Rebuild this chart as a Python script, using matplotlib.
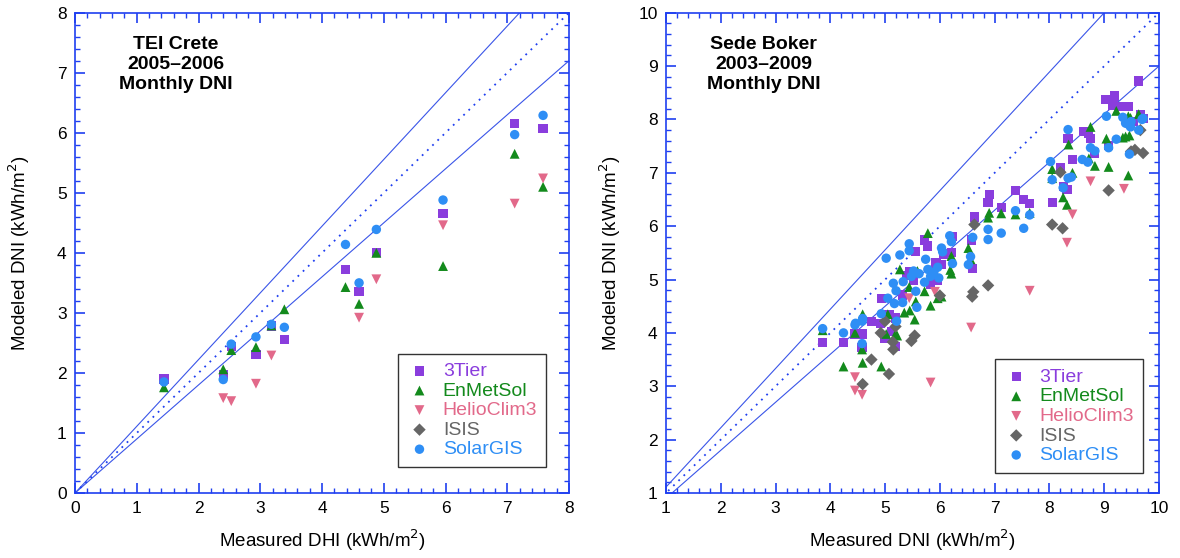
import numpy as np
import matplotlib
matplotlib.use('Agg')
import matplotlib.pyplot as plt
from matplotlib.ticker import MultipleLocator

plt.rcParams['font.family'] = ['Liberation Sans', 'DejaVu Sans']

series = ['3Tier', 'EnMetSol', 'HelioClim3', 'ISIS', 'SolarGIS']
colors = ['#8a3ddd', '#138a1c', '#e2698a', '#666666', '#2e8ef5']
markers = ['s', '^', 'v', 'D', 'o']

# TEI Crete, 2005-2006 (measured, modeled)
crete_3tier_x = [1.44, 2.40, 2.53, 2.93, 3.18, 3.39, 4.38, 4.60, 4.88, 5.96, 7.12, 7.58]
crete_3tier_y = [1.90, 1.97, 2.44, 2.31, 2.78, 2.56, 3.72, 3.36, 4.00, 4.65, 6.15, 6.07]
crete_enm_x = [1.44, 2.40, 2.53, 2.93, 3.18, 3.39, 4.38, 4.60, 4.88, 5.96, 7.12, 7.58]
crete_enm_y = [1.76, 2.06, 2.38, 2.43, 2.79, 3.06, 3.43, 3.15, 4.00, 3.78, 5.65, 5.10]
crete_helio_x = [2.40, 2.53, 2.93, 3.18, 4.60, 4.88, 5.96, 7.12, 7.58]
crete_helio_y = [1.58, 1.53, 1.82, 2.29, 2.92, 3.56, 4.46, 4.82, 5.24]
crete_isis_x = []
crete_isis_y = []
crete_sgis_x = [1.44, 2.40, 2.53, 2.93, 3.18, 3.39, 4.38, 4.60, 4.88, 5.96, 7.12, 7.58]
crete_sgis_y = [1.85, 1.89, 2.48, 2.60, 2.81, 2.76, 4.14, 3.50, 4.39, 4.88, 5.97, 6.29]

# Sede Boker, 2003-2009
sb_3tier_x = [3.86, 4.24, 4.45, 4.59, 4.58, 4.75, 4.92, 4.94, 5.00, 5.07, 5.12, 5.19,
              5.19, 5.32, 5.39, 5.45, 5.56, 5.52, 5.72, 5.78, 5.83, 5.93, 5.96, 6.03,
              6.06, 6.23, 6.21, 6.60, 6.57, 6.63, 6.88, 6.90, 7.12, 7.38, 7.53, 7.64,
              8.06, 8.20, 8.26, 8.32, 8.34, 8.42, 8.62, 8.72, 8.75, 8.82, 9.08, 9.02,
              9.19, 9.16, 9.29, 9.44, 9.53, 9.63, 9.66, 9.71]
sb_3tier_y = [3.82, 3.82, 3.98, 3.98, 3.72, 4.22, 4.18, 4.65, 3.90, 4.35, 4.02, 3.75,
              4.28, 4.71, 5.08, 5.14, 5.52, 4.98, 5.74, 5.63, 4.91, 5.31, 4.98, 5.28,
              5.48, 5.81, 5.51, 5.21, 5.74, 6.17, 6.44, 6.60, 6.35, 6.67, 6.50, 6.42,
              6.44, 7.10, 6.75, 6.69, 7.64, 7.25, 7.78, 7.73, 7.64, 7.37, 7.51, 8.37,
              8.44, 8.26, 8.24, 8.24, 7.96, 8.72, 8.10, 8.02]
sb_enm_x = [3.86, 4.24, 4.58, 4.59, 4.59, 4.45, 4.93, 5.02, 5.05, 5.19, 5.22, 5.27,
            5.35, 5.45, 5.44, 5.54, 5.56, 5.59, 5.72, 5.78, 5.83, 5.96, 6.03, 6.19,
            6.21, 6.21, 6.52, 6.56, 6.88, 6.90, 7.12, 7.38, 7.64, 8.05, 8.05, 8.25,
            8.32, 8.35, 8.42, 8.75, 8.72, 8.83, 9.08, 9.04, 9.22, 9.34, 9.39, 9.46,
            9.44, 9.48, 9.44, 9.63]
sb_enm_y = [4.05, 3.37, 3.69, 4.35, 3.44, 4.00, 3.37, 3.98, 4.35, 3.98, 3.95, 5.19,
            4.38, 4.42, 4.86, 4.25, 4.59, 5.16, 4.78, 5.87, 4.51, 4.65, 4.68, 5.18,
            5.44, 5.11, 5.59, 5.38, 6.16, 6.25, 6.24, 6.22, 6.25, 7.07, 6.90, 6.54,
            6.40, 7.53, 7.00, 7.86, 7.27, 7.13, 7.11, 7.64, 8.16, 7.66, 7.68, 7.70,
            8.06, 8.03, 6.95, 8.10]
sb_helio_x = [4.45, 4.45, 4.58, 5.44, 5.91, 5.83, 6.57, 7.64, 8.42, 8.32, 8.75, 9.36]
sb_helio_y = [3.17, 2.92, 2.84, 4.65, 4.77, 3.07, 4.10, 4.79, 6.22, 5.69, 6.84, 6.70]
sb_isis_x = [4.59, 4.75, 4.92, 5.00, 5.07, 5.15, 5.14, 5.19, 5.48, 5.54, 6.00, 6.59,
             6.61, 6.88, 6.63, 8.05, 8.24, 8.20, 9.08, 9.49, 9.56, 9.71, 9.66]
sb_isis_y = [3.04, 3.50, 4.00, 4.22, 3.23, 3.69, 3.83, 4.12, 3.85, 3.95, 4.70, 4.68,
             4.77, 4.89, 6.03, 6.03, 5.96, 7.01, 6.67, 7.40, 7.43, 7.37, 7.80]
sb_sgis_x = [3.86, 4.24, 4.45, 4.46, 4.58, 4.59, 4.58, 4.93, 5.02, 5.05, 5.15, 5.17,
             5.20, 5.21, 5.27, 5.32, 5.33, 5.44, 5.44, 5.48, 5.52, 5.56, 5.58, 5.62,
             5.72, 5.74, 5.78, 5.83, 5.89, 5.96, 5.98, 6.03, 6.05, 6.18, 6.21, 6.23,
             6.52, 6.56, 6.60, 6.88, 6.88, 7.12, 7.38, 7.53, 7.64, 8.02, 8.05, 8.25,
             8.34, 8.34, 8.40, 8.60, 8.70, 8.75, 8.83, 9.08, 9.04, 9.22, 9.34, 9.39,
             9.44, 9.46, 9.49, 9.48, 9.63, 9.69, 9.71]
sb_sgis_y = [4.08, 4.00, 4.15, 4.18, 3.80, 4.27, 4.22, 4.36, 5.40, 4.65, 4.93, 4.55,
             4.79, 4.22, 5.46, 4.57, 4.96, 5.67, 5.54, 5.06, 5.16, 4.78, 4.48, 5.11,
             4.95, 5.38, 5.19, 5.06, 5.14, 5.23, 5.03, 5.59, 5.52, 5.82, 5.71, 5.30,
             5.28, 5.43, 5.79, 5.94, 5.75, 5.87, 6.29, 5.96, 6.21, 7.21, 6.87, 6.72,
             7.81, 6.90, 6.92, 7.25, 7.20, 7.47, 7.41, 7.47, 8.06, 7.63, 8.04, 7.93,
             7.91, 7.35, 7.96, 7.86, 7.80, 8.00, 8.02]

crete = [(crete_3tier_x, crete_3tier_y), (crete_enm_x, crete_enm_y),
         (crete_helio_x, crete_helio_y), (crete_isis_x, crete_isis_y),
         (crete_sgis_x, crete_sgis_y)]
sede = [(sb_3tier_x, sb_3tier_y), (sb_enm_x, sb_enm_y), (sb_helio_x, sb_helio_y),
        (sb_isis_x, sb_isis_y), (sb_sgis_x, sb_sgis_y)]

axis_blue = '#1f3ff0'
line_blue = '#3a55e8'

fig = plt.figure(figsize=(11.8, 5.58), dpi=100)
ax1 = fig.add_axes([0.0636, 0.1165, 0.4186, 0.8607])
ax2 = fig.add_axes([0.5644, 0.1165, 0.4178, 0.8607])


def draw_panel(ax, data, lo, hi, title, tx, ty, xlabel, legend_box):
    t = np.array([0, hi])
    ax.plot(t, t / 0.9, color=line_blue, lw=0.8)
    ax.plot(t, t * 0.9, color=line_blue, lw=0.8)
    ax.plot(t, t, color=axis_blue, lw=1.3, linestyle=(0, (1, 3)))
    for (x, y), name, c, m in zip(data, series, colors, markers):
        ms = {'s': 44, '^': 50, 'v': 50, 'D': 40, 'o': 46}[m]
        ax.scatter(x, y, s=ms, marker=m, color=c, edgecolors='none', label=name, zorder=3)
    ax.set_xlim(lo, hi)
    ax.set_ylim(lo, hi)
    ax.xaxis.set_major_locator(MultipleLocator(1))
    ax.yaxis.set_major_locator(MultipleLocator(1))
    ax.xaxis.set_minor_locator(MultipleLocator(0.2))
    ax.yaxis.set_minor_locator(MultipleLocator(0.2))
    ax.tick_params(which='both', direction='in', top=True, right=True,
                   color=axis_blue, labelcolor='black', labelsize=12.5, pad=6)
    ax.tick_params(which='major', length=7, width=1.2)
    ax.tick_params(which='minor', length=3.5, width=1.0)
    for s in ax.spines.values():
        s.set_color(axis_blue)
        s.set_linewidth(1.2)
    ax.set_xlabel(xlabel, fontsize=13.5, labelpad=8)
    ax.set_ylabel('Modeled DNI (kWh/m$^2$)', fontsize=13.5)
    ax.yaxis.set_label_coords(-0.087, 0.5)
    ax.text(tx, ty, title, ha='center', va='top', fontsize=14, fontweight='bold',
            linespacing=1.25)
    leg = ax.legend(loc='lower left', bbox_to_anchor=legend_box, fontsize=14,
                    frameon=True, fancybox=False, edgecolor='black',
                    handletextpad=0.55, borderpad=0.45, labelspacing=0.1,
                    handlelength=1.3, borderaxespad=0, scatterpoints=1)
    leg.get_frame().set_linewidth(1.0)
    for txt, c in zip(leg.get_texts(), colors):
        txt.set_color(c)


draw_panel(ax1, crete, 0, 8, 'TEI Crete\n2005–2006\nMonthly DNI', 1.63, 7.62,
           'Measured DHI (kWh/m$^2$)', (0.654, 0.054))
draw_panel(ax2, sede, 1, 10, 'Sede Boker\n2003–2009\nMonthly DNI', 2.78, 9.57,
           'Measured DNI (kWh/m$^2$)', (0.667, 0.042))

fig.savefig('out.png', dpi=100)
